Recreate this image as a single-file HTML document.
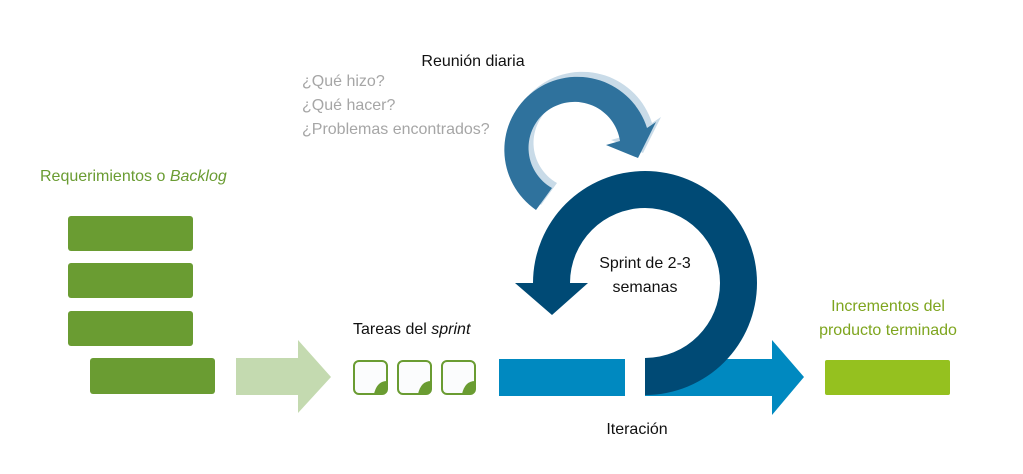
<!DOCTYPE html>
<html><head><meta charset="utf-8"><style>
body{margin:0;background:#fff;}
svg text{font-family:"Liberation Sans","DejaVu Sans",sans-serif;}
</style></head><body>
<svg width="1023" height="469" viewBox="0 0 1023 469" xmlns="http://www.w3.org/2000/svg">
<!-- green backlog -->
<g fill="#6a9c32">
<rect x="68" y="216" width="125" height="35" rx="3"/>
<rect x="68" y="263" width="125" height="35" rx="3"/>
<rect x="68" y="311" width="125" height="35" rx="3"/>
<rect x="90" y="358" width="125" height="36" rx="3"/>
</g>
<polygon points="236,358 298,358 298,340 331,377 298,413 298,395 236,395" fill="#c4dab0"/>
<!-- sticky notes -->
<g>
<rect x="354" y="361" width="33" height="33" rx="5" fill="#fbfcfd" stroke="#6a9c32" stroke-width="2"/>
<path d="M375 393 L386 393 L386 382 Q386 392 375 393Z" fill="#6a9c32"/>
<path d="M374 394 Q377 381 387 381 L387 389 Q387 394 382 394Z" fill="#6a9c32"/>
<rect x="398" y="361" width="33" height="33" rx="5" fill="#fbfcfd" stroke="#6a9c32" stroke-width="2"/>
<path d="M418 394 Q421 381 431 381 L431 389 Q431 394 426 394Z" fill="#6a9c32"/>
<rect x="442" y="361" width="33" height="33" rx="5" fill="#fbfcfd" stroke="#6a9c32" stroke-width="2"/>
<path d="M462 394 Q465 381 475 381 L475 389 Q475 394 470 394Z" fill="#6a9c32"/>
</g>
<!-- blue iteration bar -->
<rect x="499" y="359" width="126" height="37" fill="#0089c0"/>
<polygon points="645,359 772,359 772,340 804,377 772,415 772,396 645,396" fill="#0089c0"/>
<!-- small daily arrow -->
<path transform="translate(5,-5)" d="M536 210 A73 73 0 1 1 647 128 L656 122 L638 158 L606 145 L620 141 A46 46 0 1 0 552 188 Z" fill="#c9dbe8"/>
<path d="M536 210 A73 73 0 1 1 647 128 L656 122 L638 158 L606 145 L620 141 A46 46 0 1 0 552 188 Z" fill="#2f729d"/>
<!-- big sprint arrow -->
<path d="M645 395 A112 112 0 1 0 533 283 L515 283 L552 315 L588 283 L570 283 A75 75 0 1 1 645 358 Z" fill="#004a75"/>
<!-- texts -->
<text x="473" y="66" font-size="16" fill="#111" text-anchor="middle">Reunión diaria</text>
<g font-size="16" fill="#a6a6a6">
<text x="302" y="86">¿Qué hizo?</text>
<text x="302" y="110">¿Qué hacer?</text>
<text x="302" y="134">¿Problemas encontrados?</text>
</g>
<text x="40" y="181" font-size="16" fill="#6a9c32">Requerimientos o <tspan font-style="italic">Backlog</tspan></text>
<text x="353" y="334" font-size="16" fill="#111">Tareas del <tspan font-style="italic">sprint</tspan></text>
<text x="645" y="268" font-size="16" fill="#111" text-anchor="middle">Sprint de 2-3</text>
<text x="645" y="292" font-size="16" fill="#111" text-anchor="middle">semanas</text>
<text x="637" y="434" font-size="16" fill="#111" text-anchor="middle">Iteración</text>
<text x="888" y="311" font-size="16" fill="#7ea51e" text-anchor="middle">Incrementos del</text>
<text x="888" y="335" font-size="16" fill="#7ea51e" text-anchor="middle">producto terminado</text>
<rect x="825" y="360" width="125" height="35" rx="2" fill="#95c11f"/>
</svg>
</body></html>
